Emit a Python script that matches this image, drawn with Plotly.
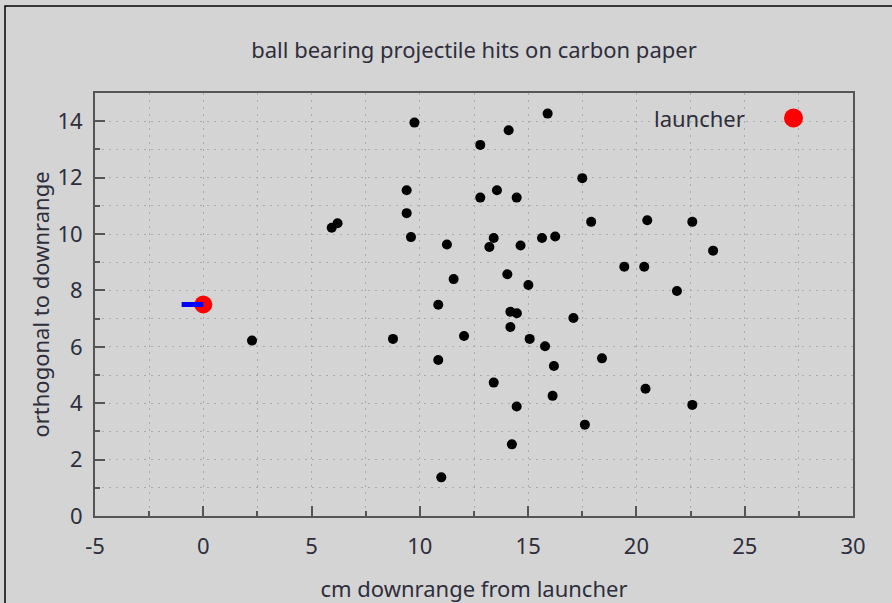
import plotly.graph_objects as go

hits_x = [9.75, 12.79, 9.39, 12.79, 9.39, 5.93, 6.20, 9.59, 11.25, 11.56, 10.85, 2.25, 8.76,
          12.04, 10.85, 10.99, 15.90, 14.10, 17.50, 13.56, 14.47, 17.91, 20.50, 22.58, 13.41,
          13.21, 14.65, 15.64, 16.25, 23.54, 14.04, 15.01, 19.44, 20.36, 21.87, 14.18, 14.48,
          17.09, 14.18, 15.07, 15.78, 18.41, 16.19, 13.41, 20.42, 16.13, 14.47, 22.58, 17.62, 14.25]
hits_y = [13.95, 13.16, 11.55, 11.29, 10.74, 10.22, 10.38, 9.89, 9.63, 8.40, 7.49, 6.22, 6.28,
          6.38, 5.53, 1.37, 14.27, 13.68, 11.98, 11.55, 11.29, 10.43, 10.49, 10.43, 9.86,
          9.54, 9.59, 9.86, 9.91, 9.41, 8.57, 8.19, 8.84, 8.84, 7.98, 7.24, 7.19,
          7.02, 6.70, 6.28, 6.02, 5.59, 5.32, 4.73, 4.51, 4.26, 3.88, 3.94, 3.24, 2.54]
launcher_x = [0]
launcher_y = [7.5]
aim_x = [-1, 0]
aim_y = [7.5, 7.5]

x_tick_vals = [-5, 0, 5, 10, 15, 20, 25, 30]
x_tick_labels = ["-5", "0", "5", "10", "15", "20", "25", "30"]
y_tick_vals = [0, 2, 4, 6, 8, 10, 12, 14]
y_tick_labels = ["0", "2", "4", "6", "8", "10", "12", "14"]

title_text = "ball bearing projectile hits on carbon paper"
x_title = "cm downrange from launcher"
y_title = "orthogonal to downrange"
legend_label = "launcher"

FONT = "Noto Sans"
FS = 22
TXT = "#2e2e3c"
BG = "#d4d4d4"
GRID = "#ababab"

fig = go.Figure()
fig.add_trace(go.Scatter(x=hits_x, y=hits_y, mode="markers",
                         marker=dict(color="black", size=10), showlegend=False, hoverinfo="x+y"))
fig.add_trace(go.Scatter(x=launcher_x, y=launcher_y, mode="markers",
                         marker=dict(color="#ff0000", size=18), name=legend_label, showlegend=False))
fig.add_trace(go.Scatter(x=aim_x, y=aim_y, mode="lines",
                         line=dict(color="#0000ff", width=5), showlegend=False))

W, H = 892, 603
L, R, T, B = 95, 39, 93, 87
pw, ph = W - L - R, H - T - B


def px(x):
    return (x - L) / pw


def py(y):
    return (H - B - y) / ph


# legend (gnuplot style: text then symbol)
fig.add_annotation(xref="paper", yref="paper", x=px(747), y=py(118), text=legend_label,
                   showarrow=False, xanchor="right", yanchor="middle",
                   font=dict(family=FONT, size=FS, color=TXT))
fig.add_shape(type="circle", xref="paper", yref="paper",
              x0=px(784), x1=px(803), y0=py(127.5), y1=py(108.5),
              fillcolor="#ff0000", line=dict(width=0))
# outer frame of the canvas
fig.add_shape(type="rect", xref="paper", yref="paper",
              x0=px(5), x1=px(905), y0=py(620), y1=py(6),
              line=dict(color="black", width=1.5), fillcolor="rgba(0,0,0,0)", layer="below")

axis_common = dict(
    showline=True, linecolor="#555555", linewidth=2, mirror=True,
    ticks="inside", tickcolor="#555555", tickwidth=2, ticklen=10,
    showgrid=True, gridcolor=GRID, griddash="2px,5px", gridwidth=1,
    zeroline=False, automargin=False,
    tickfont=dict(family=FONT, size=FS, color=TXT),
)

fig.update_xaxes(range=[-5, 30], tickmode="array", tickvals=x_tick_vals, ticktext=x_tick_labels,
                 ticklabelstandoff=10, **axis_common,
                 minor=dict(dtick=2.5, tick0=-5, ticks="inside", ticklen=5, tickcolor="#555555",
                            showgrid=True, gridcolor=GRID, griddash="2px,5px"),
                 title=dict(text=x_title, font=dict(family=FONT, size=FS, color=TXT), standoff=22))
fig.update_yaxes(range=[0, 15], tickmode="array", tickvals=y_tick_vals, ticktext=y_tick_labels,
                 ticklabelstandoff=6, **axis_common,
                 minor=dict(dtick=1, tick0=0, ticks="inside", ticklen=5, tickcolor="#555555",
                            showgrid=True, gridcolor=GRID, griddash="2px,5px"),
                 title=dict(text=y_title, font=dict(family=FONT, size=FS, color=TXT), standoff=2))

fig.update_layout(
    width=W, height=H,
    margin=dict(l=L, r=R, t=T, b=B, autoexpand=False),
    paper_bgcolor=BG, plot_bgcolor=BG,
    title=dict(text=title_text, x=0.5, xref="paper", y=1 - 50 / H, yanchor="middle",
               font=dict(family=FONT, size=FS, color=TXT)),
    showlegend=False,
)

fig.write_html("out.html")
